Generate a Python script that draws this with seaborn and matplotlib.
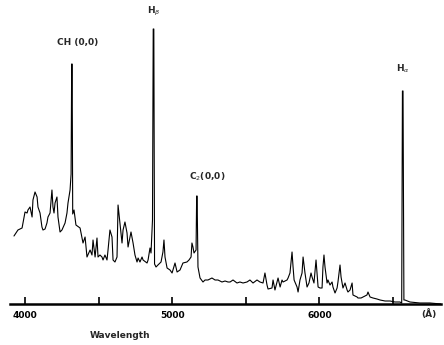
import matplotlib
matplotlib.use("Agg")
import matplotlib.pyplot as plt
import seaborn as sns
import pandas as pd

# Wavelength (Angstrom) and relative flux (arbitrary units)
wavelength = [
    3925, 3952, 3980, 4000, 4014, 4020, 4034, 4048, 4054, 4068, 4082, 4088, 4102, 4115,
    4122, 4136, 4149, 4156, 4170, 4183, 4190, 4197, 4204, 4217, 4224, 4238, 4251, 4272,
    4285, 4292, 4306, 4313, 4317, 4320, 4324, 4333, 4346, 4374, 4394, 4408, 4421,
    4442, 4455, 4462, 4476, 4489, 4496, 4509, 4523, 4530, 4543, 4557, 4564, 4577, 4591,
    4598, 4611, 4625, 4632, 4645, 4659, 4666, 4679, 4693, 4700, 4720, 4734, 4747, 4761,
    4768, 4781, 4795, 4802, 4829, 4836, 4849, 4856, 4866, 4871, 4875, 4880, 4890,
    4903, 4924, 4937, 4944, 4951, 4965, 4985, 4999, 5005, 5019, 5033, 5053, 5067, 5073,
    5100, 5114, 5128, 5134, 5141, 5148, 5162, 5166, 5169, 5175, 5189, 5209, 5223, 5243,
    5270, 5291, 5311, 5338, 5359, 5379, 5393, 5413, 5440, 5460, 5481, 5508, 5528, 5542,
    5549, 5576, 5596, 5617, 5630, 5644, 5651, 5678, 5685, 5698, 5712, 5719, 5733, 5746,
    5753, 5780, 5787, 5800, 5814, 5821, 5828, 5848, 5855, 5868, 5882, 5889, 5902, 5916,
    5929, 5943, 5950, 5963, 5977, 5984, 5991, 6004, 6018, 6024, 6031, 6038, 6052, 6058,
    6072, 6086, 6092, 6106, 6120, 6126, 6140, 6147, 6160, 6174, 6188, 6194, 6208, 6222,
    6228, 6256, 6262, 6283, 6296, 6323, 6330, 6344, 6364, 6391, 6412, 6446, 6480, 6513,
    6547, 6559, 6564, 6568, 6574, 6581, 6615, 6683, 6751, 6826,
]
flux = [
    68, 74, 76, 92, 91, 94, 97, 87, 104, 112, 107, 97, 91, 77,
    74, 75, 81, 87, 91, 114, 97, 91, 101, 107, 87, 72, 74, 81,
    91, 101, 114, 130, 240, 240, 90, 94, 79, 76, 61, 67, 47,
    54, 49, 64, 47, 66, 47, 49, 47, 44, 49, 44, 54, 74, 67,
    44, 42, 47, 99, 81, 61, 74, 82, 71, 57, 72, 61, 49, 42,
    46, 42, 47, 44, 41, 44, 56, 51, 84, 275, 275, 40, 37,
    39, 42, 52, 64, 47, 36, 34, 31, 34, 41, 32, 34, 39, 41,
    42, 44, 47, 61, 57, 51, 54, 108, 108, 37, 26, 22, 24, 24,
    26, 24, 24, 22, 23, 22, 22, 24, 21, 22, 21, 22, 24, 22,
    21, 24, 22, 21, 31, 19, 15, 16, 24, 14, 22, 26, 17, 24,
    22, 24, 26, 31, 52, 37, 24, 17, 12, 24, 31, 47, 31, 17,
    21, 31, 27, 21, 44, 31, 17, 16, 16, 37, 49, 37, 21, 24,
    19, 22, 17, 11, 16, 22, 39, 27, 16, 21, 14, 12, 14, 21,
    9, 7, 6, 6, 7, 9, 12, 7, 6, 5, 4, 3, 3, 2,
    2, 1, 213, 213, 4, 4, 2, 1, 1, 0,
]

tick_values = [4000, 4500, 5000, 5500, 6000, 6500]
tick_labels = ["4000", "", "5000", "", "6000", ""]

line_names = ["CH (0,0)", r"H$_\beta$", r"C$_2$(0,0)", r"H$_\alpha$"]
line_wavelengths = [4360, 4873, 5235, 6570]
line_label_heights = [261, 293, 127, 235]

sns.set_style("white")
plt.rcParams["font.family"] = ["DejaVu Sans"]

fig = plt.figure(figsize=(4.44, 3.45), dpi=100)
ax = fig.add_axes([10 / 444, 41 / 345, 431 / 444, 284 / 345])

df = pd.DataFrame({"wavelength": wavelength, "flux": flux})
sns.lineplot(data=df, x="wavelength", y="flux", color="black", lw=0.8,
             estimator=None, ax=ax)

ax.set_xlim(3898, 6826)
ax.set_ylim(0, 284)
for s in ["top", "right", "left"]:
    ax.spines[s].set_visible(False)
ax.spines["bottom"].set_linewidth(1.8)
ax.spines["bottom"].set_color("black")
ax.set_yticks([])
ax.set_ylabel("")
ax.set_xlabel("")
ax.set_xticks(tick_values)
ax.set_xticklabels(tick_labels, fontsize=6.5, fontweight="bold")
ax.tick_params(axis="x", bottom=True, direction="in", length=5, width=1.2,
               pad=5, colors="black")

for name, wl, h in zip(line_names, line_wavelengths, line_label_heights):
    ax.text(wl, h, name, ha="center", va="center", fontsize=6.5, fontweight="bold")

fig.text(429 / 444, 1 - 314 / 345, "(Å)", ha="center", va="center",
         fontsize=6.5, fontweight="bold")
fig.text(120 / 444, 1 - 336 / 345, "Wavelength", ha="center", va="center",
         fontsize=6.5, fontweight="bold")

fig.savefig("out.png", dpi=100, facecolor="white")
